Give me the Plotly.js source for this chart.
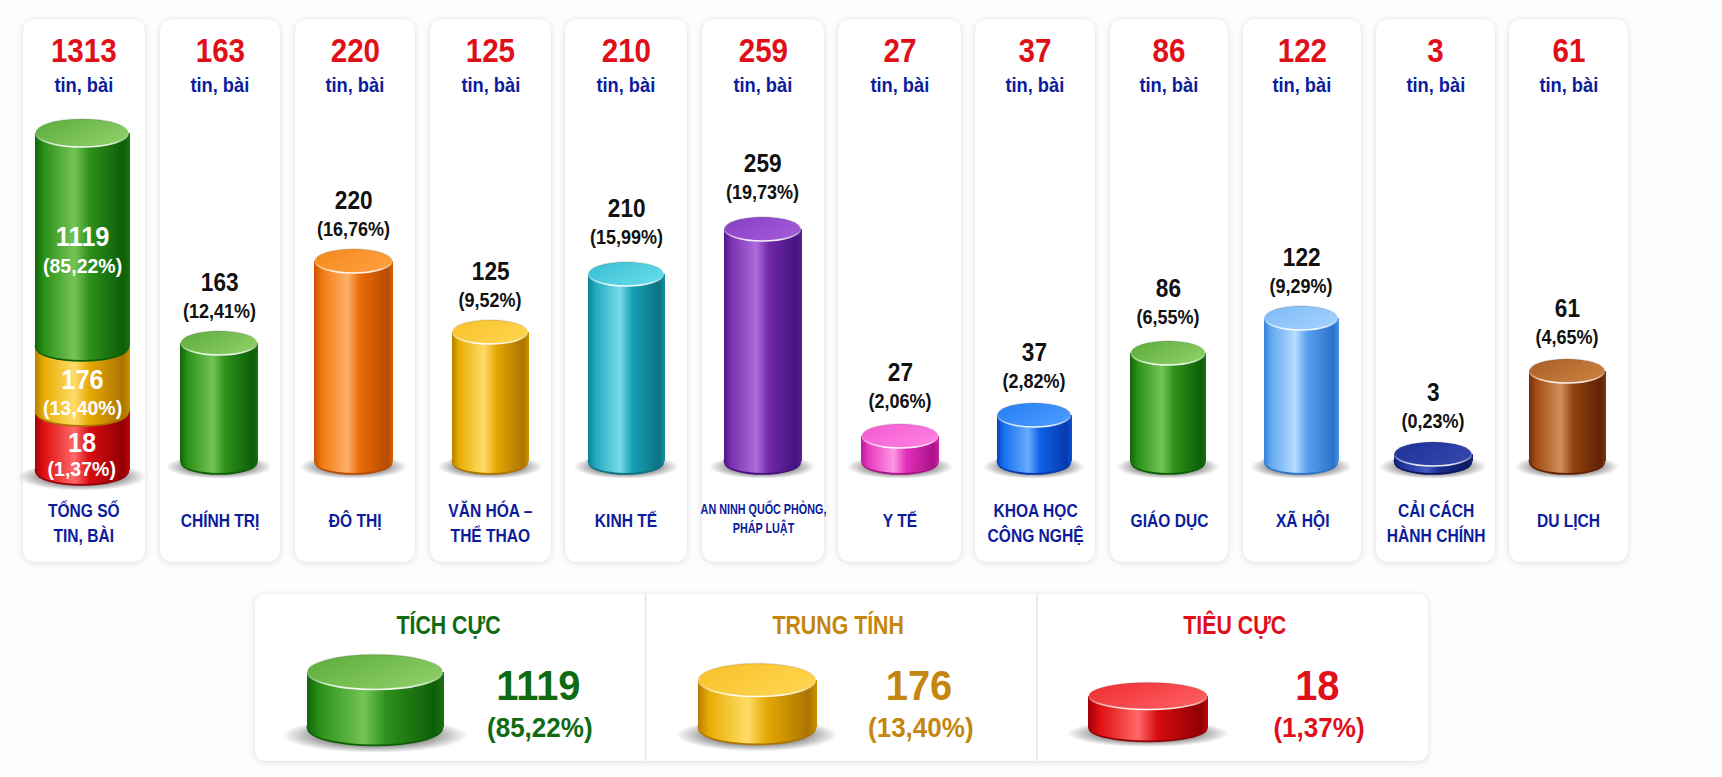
<!DOCTYPE html>
<html>
<head>
<meta charset="utf-8">
<script src="https://cdn.plot.ly/plotly-3.0.1.min.js"></script>
<style>html,body{margin:0;padding:0;background:#fdfdfd;overflow:hidden}#chart{width:1722px;height:777px}</style>
</head>
<body>
<div id="chart"></div>
<script>
// ---- data ----
const categories = ["CHÍNH TRỊ","ĐÔ THỊ","VĂN HÓA –<br>THỂ THAO","KINH TẾ","AN NINH QUỐC PHÒNG,<br>PHÁP LUẬT","Y TẾ","KHOA HỌC<br>CÔNG NGHỆ","GIÁO DỤC","XÃ HỘI","CẢI CÁCH<br>HÀNH CHÍNH","DU LỊCH"];
const articleCounts = [163,220,125,210,259,27,37,86,122,3,61];
const articleShares = ["12,41%","16,76%","9,52%","15,99%","19,73%","2,06%","2,82%","6,55%","9,29%","0,23%","4,65%"];
// the reference's cylinders are not proportional to their numbers, so their drawn heights are read separately
const drawnHeights = [118,200,129,187,232,25,46,108,143,7,90];
const barColours = ["green","orange","gold","teal","purple","pink","blue","green","sky","navy","brown"];

const totalLabel = "TỔNG SỐ<br>TIN, BÀI";
const totalCount = 1313;
const sentimentNames = ["TIÊU CỰC","TRUNG TÍNH","TÍCH CỰC"];
const sentimentCounts = [18,176,1119];
const sentimentShares = ["1,37%","13,40%","85,22%"];
const sentimentStackHeights = [59,65,213];
const sentimentKeyHeights = [31,47,55];
const sentimentColours = ["red","gold","green"];
const sentimentTextColours = ["#e0101a","#c4860f","#0f6a12"];

// ---- layout constants (pixels of the 1722x777 page) ----
const W = 1722, H = 777;
const FONT = '"Liberation Sans",Arial,sans-serif';
const BASE_Y = 461, KEY_BASE_Y = 727, STACK_BASE = -9;
const cardCentres = [84,220,355,490.5,626,763,899.5,1035,1169,1302,1435.5,1568.5];
const cardWidths = [122,120,120,121,122,122,123,120,118,118,119,119];
const barCentres = [82,219,353.5,490,626,762.5,900,1034,1168,1301,1433,1567];
const barWidths = [95,78,79,77,77,78,78,75,76,75,79,77];
const labelLift = [0,0,0,5,5,3,2,4,0,1,2];
const keyCentres = [1148,757,375], keyWidths = [120,119,137], keyEllipse = [27,33,35];
const keyValueX = [1317,919,538], keyShareX = [1319,921,540], keyTitleX = [1235,838,448];

const palette = {
  green:{side:["#0f6409","#2c9119","#74c455","#2e901b","#0d5f07","#1a7010"],cap:["#5fae3f","#8fd068"]},
  orange:{side:["#c85000","#f07a10","#ffb06a","#ea6a08","#b84c00","#d85f04"],cap:["#f58a1e","#ffa040"]},
  gold:{side:["#b47c00","#e8ae04","#ffdc68","#e6a804","#ac7400","#c89000"],cap:["#f8c22c","#ffd650"]},
  teal:{side:["#0e7e8e","#20a8bc","#78dce8","#18a0b4","#0b7282","#148ea0"],cap:["#3cc0d4","#66dcea"]},
  purple:{side:["#4c1684","#7a30b0","#ac6cdc","#7028a8","#451280","#5c1e96"],cap:["#8a40c4","#a45cdc"]},
  pink:{side:["#be1898","#e83cc0","#ff96e4","#e030b8","#ac1288","#cc20a4"],cap:["#f45cd0","#ff82e4"]},
  blue:{side:["#0a3ec2","#1870f0","#66acff","#1060e8","#083aae","#0c50d0"],cap:["#2a80f4","#4c9cff"]},
  sky:{side:["#3280d8","#60a8f0","#b8dcff","#5aa0f0","#2c72ca","#4690e4"],cap:["#80bcf8","#a4d2ff"]},
  navy:{side:["#0f1c6c","#1f3499","#4258c4","#1a2e90","#0c1860","#142480"],cap:["#1f3299","#3448ae"]},
  brown:{side:["#702a06","#a04e14","#d28e5c","#8e4210","#622204","#7a3208"],cap:["#ae6228","#cc8040"]},
  red:{side:["#a0000a","#e01010","#ff6868","#d80c10","#920006","#bc0608"],cap:["#f03034","#ff6064"]}
};

const px = v => v / W, py = v => 1 - v / H;
function roundedRect(x0,y0,x1,y1,r){
  const X=px, Y=py, rx=r/W, ry=r/H;
  return `M${X(x0)+rx},${Y(y0)} L${X(x1)-rx},${Y(y0)} Q${X(x1)},${Y(y0)} ${X(x1)},${Y(y0)-ry} L${X(x1)},${Y(y1)+ry} Q${X(x1)},${Y(y1)} ${X(x1)-rx},${Y(y1)} L${X(x0)+rx},${Y(y1)} Q${X(x0)},${Y(y1)} ${X(x0)},${Y(y1)+ry} L${X(x0)},${Y(y0)-ry} Q${X(x0)},${Y(y0)} ${X(x0)+rx},${Y(y0)} Z`;
}

// ---- shapes ----
const shapes = [], shapeFills = [], shapeShadow = [], shapeRims = [];
function addShape(s, fill, shadow){
  if (fill) shapeFills.push([shapes.length, fill]);
  if (shadow) shapeShadow.push(shapes.length);
  shapes.push(s);
}
function addEllipse(xr,yr,x,y,w,h,layer,fill,colour,dy,rim){
  if (rim) shapeRims.push(shapes.length);
  addShape({type:"circle",layer,xref:xr,yref:yr,xsizemode:"pixel",ysizemode:"pixel",xanchor:x,yanchor:y,
    x0:-w/2,x1:w/2,y0:-(h/2)-(dy||0),y1:(h/2)-(dy||0),fillcolor:colour||"#888",
    line:rim?{color:"#ffffff",width:1.6}:{width:0}},fill);
}
cardCentres.forEach((c,i)=>{
  addShape({type:"path",layer:"below",xref:"paper",yref:"paper",
    path:roundedRect(c-cardWidths[i]/2,19,c+cardWidths[i]/2,562,14),fillcolor:"#ffffff",line:{width:0}},null,true);
});
addShape({type:"path",layer:"below",xref:"paper",yref:"paper",path:roundedRect(255,594,1428,761,12),fillcolor:"#ffffff",line:{width:0}},null,true);
[645.5,1037].forEach(x=>addShape({type:"line",layer:"below",xref:"paper",yref:"paper",x0:px(x),x1:px(x),y0:py(594),y1:py(761),line:{color:"#e2e2e2",width:1.3}}));

function shadow(xr,yr,x,y,w,h){ addEllipse(xr,yr,x,y,w*1.36,h*1.0,"below","url(#shadow)",null,h*0.24); }
function cylinder(xr,yr,x,base,top,w,h,col,withCap){
  addEllipse(xr,yr,x,base,w-1,h,"above",null,palette[col].side[4],1.8);
  addEllipse(xr,yr,x,base,w,h,"above",`url(#side-${col})`);
  if (withCap) addEllipse(xr,yr,x,top,w-1.5,h,"above",`url(#cap-${col})`,null,0,true);
}
// the plain columns
articleCounts.forEach((_,i)=>{
  const x = barCentres[i+1];
  shadow("x","y",x,0,barWidths[i+1],24);
  cylinder("x","y",x,0,drawnHeights[i],barWidths[i+1],24,barColours[i],true);
});
// the stacked total column
const stackBases = [], stackTops = [];
sentimentStackHeights.reduce((b,h)=>{stackBases.push(b);stackTops.push(b+h);return b+h;},STACK_BASE);
shadow("x","y",barCentres[0],STACK_BASE,barWidths[0],28);
sentimentColours.forEach((col,i)=>{
  cylinder("x","y",barCentres[0],stackBases[i],stackTops[i],barWidths[0],28,col,i===2);
});
// the key cylinders
sentimentKeyHeights.forEach((hgt,i)=>{
  shadow("x2","y2",keyCentres[i],0,keyWidths[i],keyEllipse[i]);
  cylinder("x2","y2",keyCentres[i],0,hgt,keyWidths[i],keyEllipse[i],sentimentColours[i],true);
});

// ---- traces ----
const barBase = {type:"bar",hoverinfo:"skip",showlegend:false};
const traces = [
  Object.assign({},barBase,{name:"Chuyên mục",x:barCentres.slice(1),y:drawnHeights,width:barWidths.slice(1),
    marker:{color:barColours.map(c=>palette[c].side[1]),line:{width:0}}}),
  Object.assign({},barBase,{name:"Tổng số",x:sentimentNames.map(()=>barCentres[0]),y:sentimentStackHeights,base:stackBases,
    width:sentimentNames.map(()=>barWidths[0]),marker:{color:sentimentColours.map(c=>palette[c].side[1]),line:{width:0}}}),
  Object.assign({},barBase,{name:"Phân loại",xaxis:"x2",yaxis:"y2",x:keyCentres,y:sentimentKeyHeights,width:keyWidths,
    marker:{color:sentimentColours.map(c=>palette[c].side[1]),line:{width:0}}})
];

// ---- text ----
const annotations = [], textSqueeze = [];
function note(text,x,y,size,color,squeeze,opts){
  textSqueeze.push(squeeze);
  annotations.push(Object.assign({text,x,y,xref:"paper",yref:"paper",showarrow:false,xanchor:"center",yanchor:"middle",
    font:{family:FONT,size,color,weight:700},align:"center"},opts||{}));
}
[totalCount].concat(articleCounts).forEach((n,i)=>{
  note(String(n),px(cardCentres[i]),py(50),34,"#e01018",0.87);
  note("tin, bài",px(cardCentres[i]),py(84),21,"#0c1c9c",0.87);
});
[totalLabel].concat(categories).forEach((c,i)=>{
  const long = c.startsWith("AN NINH");
  note(c,px(cardCentres[i]),py(long?518:(c.includes("<br>")?522.5:520)),long?15:19,"#0c1c9c",long?0.72:0.82);
});
articleCounts.forEach((n,i)=>{
  const o={xref:"x",yref:"y"};
  note(String(n),barCentres[i+1],drawnHeights[i],26,"#111111",0.87,Object.assign({yshift:61+labelLift[i]},o));
  note("("+articleShares[i]+")",barCentres[i+1],drawnHeights[i],20,"#111111",0.9,Object.assign({yshift:32+labelLift[i]},o));
});
// labels inside the stack, one pair per segment
const insideValueY = [443,380,237], insideShareY = [468,407,265];
sentimentCounts.forEach((n,i)=>{
  note(String(n),px(barCentres[0]),py(insideValueY[i]),27,"#ffffff",0.94);
  note("("+sentimentShares[i]+")",px(barCentres[0]),py(insideShareY[i]),21,"#ffffff",0.93);
  note(sentimentNames[i],px(keyTitleX[i]),py(625),26,sentimentTextColours[i],0.82);
  note(String(n),px(keyValueX[i]),py(685),42,sentimentTextColours[i],0.95);
  note("("+sentimentShares[i]+")",px(keyShareX[i]),py(727),28,sentimentTextColours[i],0.93);
});

const hidden = {visible:false,fixedrange:true,showgrid:false,zeroline:false};
const layout = {
  width:W,height:H,margin:{l:0,r:0,t:0,b:0},autosize:false,showlegend:false,
  paper_bgcolor:"#fdfdfd",plot_bgcolor:"rgba(0,0,0,0)",barmode:"overlay",bargap:0,
  xaxis:Object.assign({range:[0,W],domain:[0,1]},hidden),
  yaxis:Object.assign({range:[BASE_Y-H,BASE_Y],domain:[0,1]},hidden),
  xaxis2:Object.assign({range:[0,W],domain:[0,1],anchor:"y2"},hidden),
  yaxis2:Object.assign({range:[KEY_BASE_Y-H,KEY_BASE_Y],domain:[0,1],anchor:"x2",overlaying:"y"},hidden),
  shapes,annotations
};

Plotly.newPlot("chart",traces,layout,{displayModeBar:false,staticPlot:true}).then(gd=>{
  const NS="http://www.w3.org/2000/svg";
  const defs=gd.querySelector("svg.main-svg defs");
  function grad(id,stops,attrs,tag){
    const g=document.createElementNS(NS,tag||"linearGradient");
    g.setAttribute("id",id);
    Object.entries(attrs).forEach(([k,v])=>g.setAttribute(k,v));
    stops.forEach(([o,c,a])=>{
      const s=document.createElementNS(NS,"stop");
      s.setAttribute("offset",o);s.setAttribute("stop-color",c);
      if(a!==undefined)s.setAttribute("stop-opacity",a);
      g.appendChild(s);
    });
    defs.appendChild(g);
  }
  const offs=[0,0.1,0.42,0.58,0.93,1];
  Object.entries(palette).forEach(([k,p])=>{
    grad("side-"+k,p.side.map((c,i)=>[offs[i],c]),{x1:0,x2:1,y1:0,y2:0});
    grad("cap-"+k,[[0,p.cap[0]],[1,p.cap[1]]],{x1:0,x2:1,y1:0.2,y2:0.8});
  });
  grad("rim",[[0,"#000",0.12],[0.5,"#fff",0.15],[1,"#fff",0.95]],{x1:0,x2:0,y1:0,y2:1});
  grad("shadow",[[0,"#000",0.7],[0.6,"#000",0.42],[1,"#000",0]],{cx:0.5,cy:0.5,r:0.5},"radialGradient");

  const sets=[barColours,sentimentColours,sentimentColours];
  gd.querySelectorAll(".barlayer .trace").forEach((tr,t)=>{
    tr.querySelectorAll(".point path").forEach((p,i)=>{p.style.fill=`url(#side-${sets[t][i]})`;p.style.opacity=1;});
  });
  const pathsFor=i=>gd.querySelectorAll(`.shapelayer path[data-index="${i}"]`);
  shapeFills.forEach(([i,f])=>pathsFor(i).forEach(p=>{p.style.fill=f;p.style.fillOpacity=1;}));
  shapeRims.forEach(i=>pathsFor(i).forEach(p=>{p.style.stroke="url(#rim)";p.style.strokeOpacity=1;}));
  shapeShadow.forEach(i=>pathsFor(i).forEach(p=>{p.style.filter="drop-shadow(0 1px 3px rgba(0,0,0,0.13))";}));
  // narrow the annotation text, the installed fonts having no condensed cut
  gd.querySelectorAll(".annotation").forEach(a=>{
    const i=+a.getAttribute("data-index"), t=a.querySelector("text");
    if(!t||!textSqueeze[i])return;
    t.style.transformBox="fill-box";t.style.transformOrigin="center";t.style.transform=`scaleX(${textSqueeze[i]})`;
  });
});
</script>
</body>
</html>
